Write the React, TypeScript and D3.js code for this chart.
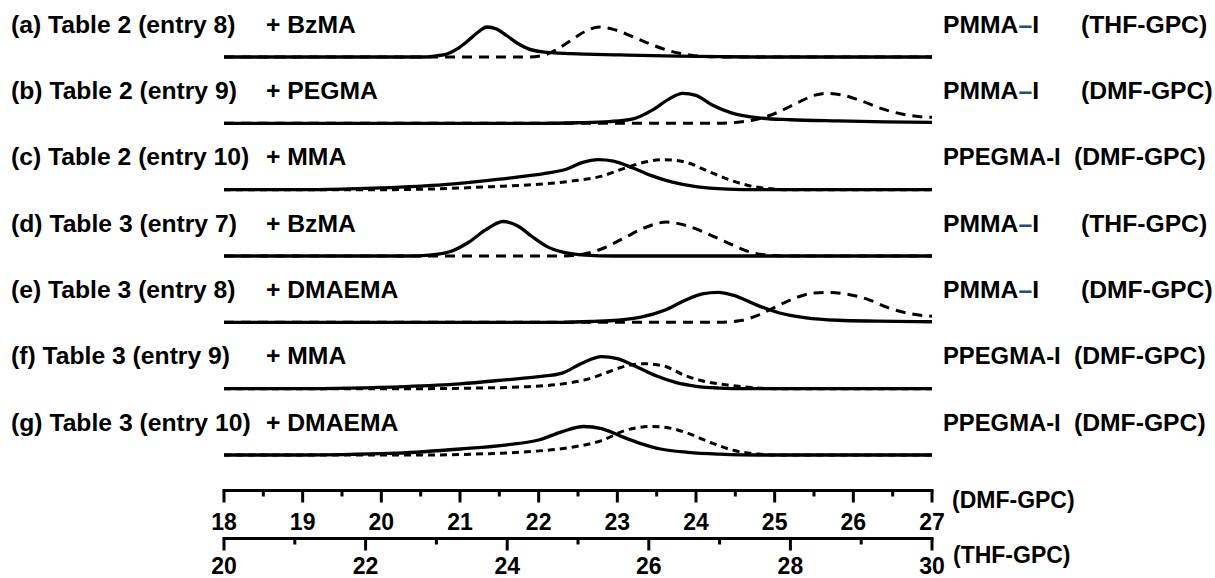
import React from "react";
import * as d3 from "d3";

type Pt = [number, number];

const PANEL_LABELS = [
  "(a) Table 2 (entry 8)",
  "(b) Table 2 (entry 9)",
  "(c) Table 2 (entry 10)",
  "(d) Table 3 (entry 7)",
  "(e) Table 3 (entry 8)",
  "(f) Table 3 (entry 9)",
  "(g) Table 3 (entry 10)",
];
const MONOMERS = ["+ BzMA", "+ PEGMA", "+ MMA", "+ BzMA", "+ DMAEMA", "+ MMA", "+ DMAEMA"];
const MACROINITIATORS = ["PMMA", "PMMA", "PPEGMA", "PMMA", "PMMA", "PPEGMA", "PPEGMA"];
const GPC_TYPES = ["THF", "DMF", "DMF", "THF", "DMF", "DMF", "DMF"];

const DMF_TICKS = [18, 19, 20, 21, 22, 23, 24, 25, 26, 27];
const DMF_MINOR = [18.5, 19.5, 20.5, 21.5, 22.5, 23.5, 24.5, 25.5, 26.5];
const THF_TICKS = [20, 22, 24, 26, 28, 30];
const THF_MINOR = [21, 23, 25, 27, 29];

// elution time (min), normalized RI intensity
const SOLID_A: Pt[] = [[20,0],[22.8,0],[23.0,0.04],[23.15,0.1],[23.3,0.28],[23.45,0.55],[23.6,0.85],[23.71,1.0],[23.85,0.93],[24.0,0.7],[24.15,0.45],[24.3,0.27],[24.5,0.17],[24.9,0.11],[25.6,0.07],[26.4,0.03],[27.0,0.01],[27.5,0],[30,0]];
const DASHED_A: Pt[] = [[20,0],[24.3,0],[24.5,0.05],[24.7,0.25],[24.9,0.55],[25.1,0.85],[25.3,1.0],[25.5,0.92],[25.75,0.7],[26.0,0.45],[26.3,0.2],[26.6,0.06],[26.9,0.01],[27.2,0],[30,0]];
const SOLID_B: Pt[] = [[18,0],[22.0,0],[22.5,0.02],[22.9,0.06],[23.2,0.15],[23.45,0.45],[23.65,0.8],[23.83,1.0],[24.0,0.93],[24.2,0.62],[24.45,0.35],[24.8,0.18],[25.2,0.12],[25.8,0.08],[26.4,0.05],[27,0.03]];
const DASHED_B: Pt[] = [[18,0],[24.2,0],[24.5,0.03],[24.8,0.15],[25.05,0.38],[25.3,0.7],[25.5,0.93],[25.65,1.0],[25.85,0.95],[26.1,0.75],[26.35,0.5],[26.6,0.32],[26.85,0.22],[27,0.2]];
const SOLID_C: Pt[] = [[18,0],[19.0,0],[19.5,0.02],[20.0,0.06],[20.8,0.17],[21.5,0.35],[22.1,0.55],[22.35,0.68],[22.55,0.9],[22.76,1.0],[22.95,0.95],[23.2,0.72],[23.45,0.45],[23.7,0.25],[24.0,0.1],[24.4,0.02],[24.8,0],[27,0]];
const DASHED_C: Pt[] = [[18,0],[20.0,0],[20.6,0.02],[21.4,0.1],[22.0,0.18],[22.4,0.28],[22.8,0.45],[23.1,0.72],[23.35,0.92],[23.6,1.0],[23.85,0.93],[24.15,0.62],[24.4,0.35],[24.65,0.15],[24.9,0.04],[25.2,0],[27,0]];
const SOLID_D: Pt[] = [[20,0],[22.6,0],[22.9,0.03],[23.2,0.15],[23.45,0.45],[23.7,0.88],[23.94,1.15],[24.15,1.0],[24.35,0.65],[24.55,0.33],[24.8,0.12],[25.1,0.03],[25.5,0],[30,0]];
const DASHED_D: Pt[] = [[20,0],[24.8,0],[25.05,0.05],[25.35,0.25],[25.65,0.6],[25.95,0.95],[26.25,1.13],[26.55,1.0],[26.85,0.72],[27.15,0.4],[27.45,0.12],[27.75,0.02],[28,0],[30,0]];
const SOLID_E: Pt[] = [[18,0],[22.3,0],[22.7,0.03],[23.0,0.07],[23.3,0.17],[23.6,0.4],[23.85,0.72],[24.08,0.95],[24.28,1.0],[24.48,0.9],[24.75,0.6],[25.05,0.32],[25.4,0.15],[25.8,0.07],[26.3,0.04],[27,0.02]];
const DASHED_E: Pt[] = [[18,0],[24.3,0],[24.55,0.05],[24.8,0.25],[25.0,0.5],[25.25,0.8],[25.45,0.96],[25.67,1.0],[25.9,0.95],[26.2,0.75],[26.45,0.48],[26.7,0.3],[27,0.2]];
const SOLID_F: Pt[] = [[18,0],[19.0,0],[19.6,0.02],[20.3,0.07],[21.0,0.16],[21.6,0.3],[22.0,0.4],[22.3,0.52],[22.55,0.85],[22.8,1.07],[23.0,1.0],[23.25,0.72],[23.5,0.42],[23.75,0.2],[24.0,0.08],[24.3,0.02],[24.6,0],[27,0]];
const DASHED_F: Pt[] = [[18,0],[20.5,0],[21.2,0.02],[21.8,0.06],[22.3,0.16],[22.6,0.3],[22.85,0.52],[23.1,0.75],[23.35,0.83],[23.6,0.75],[23.85,0.45],[24.1,0.25],[24.4,0.12],[24.7,0.04],[25.0,0],[27,0]];
const SOLID_G: Pt[] = [[18,0],[19.0,0],[19.6,0.02],[20.2,0.06],[21.0,0.2],[21.6,0.34],[22.0,0.5],[22.3,0.78],[22.57,0.95],[22.8,0.88],[23.05,0.62],[23.3,0.38],[23.55,0.2],[23.9,0.09],[24.3,0.03],[24.8,0],[27,0]];
const DASHED_G: Pt[] = [[18,0],[20.5,0],[21.2,0.03],[21.8,0.1],[22.4,0.25],[22.8,0.48],[23.1,0.82],[23.43,0.95],[23.7,0.88],[23.9,0.72],[24.2,0.4],[24.5,0.14],[24.8,0.03],[25.1,0],[27,0]];

const SOLIDS = [SOLID_A, SOLID_B, SOLID_C, SOLID_D, SOLID_E, SOLID_F, SOLID_G];
const DASHEDS = [DASHED_A, DASHED_B, DASHED_C, DASHED_D, DASHED_E, DASHED_F, DASHED_G];

const FONT = "'Liberation Sans', Arial, sans-serif";

export default function App() {
  const W = 1215, H = 578;
  const x0 = 224, x1 = 932;
  const xDMF = d3.scaleLinear().domain([18, 27]).range([x0, x1]);
  const xTHF = d3.scaleLinear().domain([20, 30]).range([x0, x1]);
  const band = d3.scalePoint<number>().domain(d3.range(7)).range([57, 455]);
  const peakPx = 30;
  const axisDMF = 490.5;
  const axisTHF = 538.5;
  const fs = 24.7;

  return (
    <svg width={W} height={H} style={{ position: "absolute", left: 0, top: 0, background: "#fff" }}
      fontFamily={FONT} fontWeight="bold">
      {PANEL_LABELS.map((lab, i) => {
        const base = band(i)!;
        const xs = GPC_TYPES[i] === "THF" ? xTHF : xDMF;
        const y = d3.scaleLinear().domain([0, 1]).range([base, base - peakPx]);
        const line = d3.line<Pt>().x(d => xs(d[0])).y(d => y(d[1])).curve(d3.curveMonotoneX);
        const ty = base - 33;
        const isPMMA = MACROINITIATORS[i] === "PMMA";
        return (
          <g key={i}>
            <text x={11} y={ty} fontSize={fs} dominantBaseline="central">{lab}</text>
            <text x={266} y={ty} fontSize={fs} dominantBaseline="central">{MONOMERS[i]}</text>
            <path d={line(DASHEDS[i])!} fill="none" stroke="#000" strokeWidth={3}
              strokeDasharray={i === 2 || i === 5 || i === 6 ? "7,5" : "10,7"} />
            <path d={line(SOLIDS[i])!} fill="none" stroke="#000" strokeWidth={3.3} />
            <text x={943} y={ty} fontSize={isPMMA ? fs : 23.8} dominantBaseline="central">
              {MACROINITIATORS[i]}
              {isPMMA ? <tspan fill="#1f4e79">–</tspan> : <tspan>-</tspan>}
              I
            </text>
            <text x={isPMMA ? 1081 : 1074} y={ty} fontSize={fs} dominantBaseline="central">
              {`(${GPC_TYPES[i]}-GPC)`}
            </text>
          </g>
        );
      })}

      <g stroke="#000" strokeWidth={3} fill="none">
        <line x1={xDMF(18) - 1.5} x2={xDMF(27) + 1.5} y1={axisDMF} y2={axisDMF} />
        {DMF_TICKS.map(t => <line key={t} x1={xDMF(t)} x2={xDMF(t)} y1={axisDMF} y2={axisDMF + 12} />)}
        {DMF_MINOR.map(t => <line key={t} x1={xDMF(t)} x2={xDMF(t)} y1={axisDMF} y2={axisDMF + 6} />)}
        <line x1={xTHF(20) - 1.5} x2={xTHF(30) + 1.5} y1={axisTHF} y2={axisTHF} />
        {THF_TICKS.map(t => <line key={t} x1={xTHF(t)} x2={xTHF(t)} y1={axisTHF} y2={axisTHF + 12} />)}
        {THF_MINOR.map(t => <line key={t} x1={xTHF(t)} x2={xTHF(t)} y1={axisTHF} y2={axisTHF + 6} />)}
      </g>
      {DMF_TICKS.map(t => (
        <text key={t} x={xDMF(t)} y={521.5} fontSize={23} textAnchor="middle" dominantBaseline="central">{t}</text>
      ))}
      {THF_TICKS.map(t => (
        <text key={t} x={xTHF(t)} y={566} fontSize={23} textAnchor="middle" dominantBaseline="central">{t}</text>
      ))}
      <text x={952} y={500} fontSize={23} dominantBaseline="central">(DMF-GPC)</text>
      <text x={953} y={555} fontSize={23} dominantBaseline="central">(THF-GPC)</text>
    </svg>
  );
}
